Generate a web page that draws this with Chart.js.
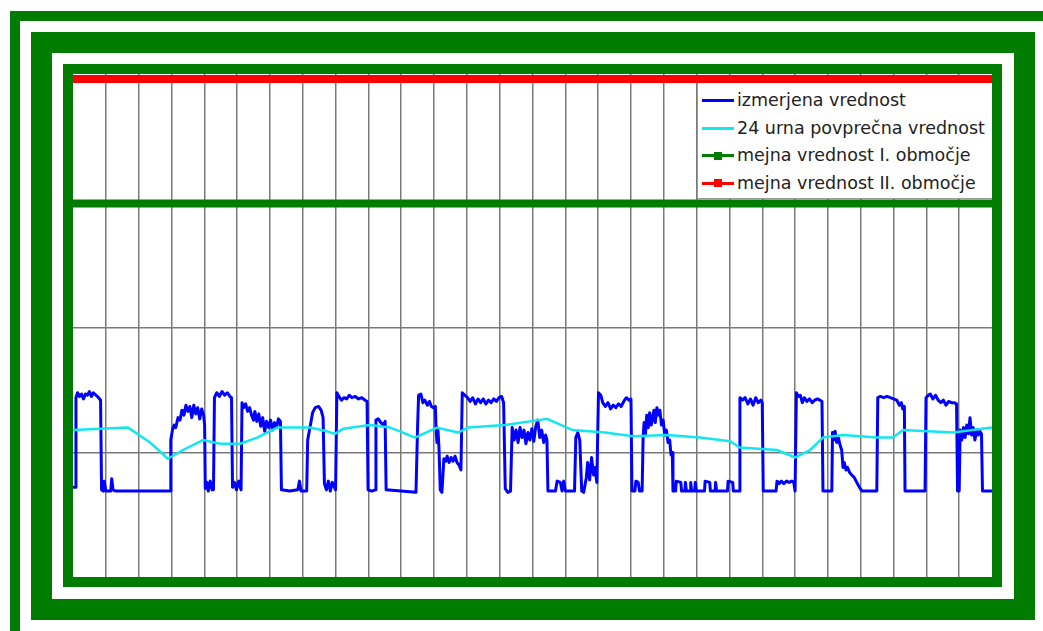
<!DOCTYPE html>
<html>
<head>
<meta charset="utf-8">
<script src="https://cdn.jsdelivr.net/npm/chart.js@4.4.0/dist/chart.umd.min.js"></script>
<style>
    html, body { margin: 0; padding: 0; background: #fff; width: 1043px; height: 631px; overflow: hidden; }
    .frame { position: absolute; box-sizing: border-box; border: solid #007d00; }
    #outer { left: 10px; top: 11px; width: 1100px; height: 700px; border-width: 10px 0 0 10px; }
    #middle { left: 31px; top: 32px; width: 1004px; height: 588px; border-width: 21px; }
    #inner { left: 63px; top: 64px; width: 939px; height: 523px; border-width: 10px; }
    #plot { position: absolute; left: 73px; top: 74px; width: 919px; height: 503px; }
    #legend {
        position: absolute; left: 697px; top: 83px; width: 295px; height: 116px;
        box-sizing: border-box; background: #fff;
        border-left: 1px solid #999; border-bottom: 1px solid #999;
        padding-top: 4px;
        font-family: "DejaVu Sans", sans-serif; font-size: 17.5px; color: #222;
    }
    .item { position: relative; height: 27.5px; line-height: 27.5px; padding-left: 39px; white-space: nowrap; }
    .swatch { position: absolute; left: 4px; top: 12px; width: 32px; height: 3px; }
    .marker { position: absolute; left: 16px; top: 9.5px; width: 8px; height: 8px; }
</style>
</head>
<body>
<div class="frame" id="outer"></div>
<div class="frame" id="middle"></div>
<div class="frame" id="inner"></div>
<div id="plot"><canvas id="chart"></canvas></div>
<div id="legend"></div>

<script>
// x = days (one grid column per day), y = measured level (grid step 1)
const measuredDays = [
    0.00, 0.07, 0.09, 0.14, 0.20, 0.26, 0.32, 0.38, 0.44, 0.50, 0.56, 0.62, 0.70, 0.78, 0.84, 0.87,
    0.92, 0.95, 1.00, 1.15, 1.18, 1.22, 1.30, 2.96,
    2.98, 3.03, 3.08, 3.13, 3.20, 3.26, 3.32, 3.38, 3.44, 3.50, 3.56, 3.62, 3.68, 3.74, 3.80, 3.86, 3.92, 3.98, 4.01, 4.03,
    4.08, 4.12, 4.18, 4.24, 4.28, 4.31, 4.38, 4.46, 4.54, 4.62, 4.70, 4.78, 4.83, 4.86,
    4.92, 4.98, 5.05, 5.12, 5.15, 5.20, 5.26, 5.32, 5.38, 5.44, 5.50, 5.54, 5.60, 5.66, 5.72, 5.78, 5.84, 5.90, 5.96, 6.02, 6.08, 6.14, 6.20, 6.26, 6.32, 6.35,
    6.60, 6.85, 6.90, 6.95, 7.12, 7.15, 7.22, 7.30, 7.38, 7.48, 7.56, 7.62, 7.66,
    7.72, 7.78, 7.84, 7.90, 8.00, 8.04, 8.10, 8.18, 8.26, 8.34, 8.42, 8.50, 8.60, 8.70, 8.80, 8.90, 8.96, 8.99,
    9.10, 9.21, 9.23, 9.30, 9.38, 9.46, 9.51, 9.54,
    10.45, 10.50, 10.53, 10.60, 10.66, 10.72, 10.80, 10.86, 10.92, 10.98, 11.04,
    11.06, 11.09, 11.12, 11.15, 11.19, 11.24,
    11.30, 11.36, 11.40, 11.46, 11.52, 11.58, 11.64, 11.70, 11.76, 11.82,
    11.86, 11.94, 12.02, 12.10, 12.18, 12.26, 12.34, 12.42, 12.50, 12.58, 12.66, 12.74, 12.82, 12.90, 12.98, 13.06, 13.12,
    13.17, 13.25, 13.33,
    13.38, 13.44, 13.50, 13.56, 13.62, 13.68, 13.74, 13.80, 13.86, 13.92, 13.98, 14.04, 14.10, 14.16, 14.22, 14.28, 14.34, 14.40, 14.44,
    14.47, 14.70, 14.75, 14.85, 14.90, 14.95, 15.00, 15.28,
    15.32, 15.38, 15.44, 15.50, 15.56,
    15.64, 15.68, 15.74, 15.80, 15.86, 15.90, 15.96,
    16.01, 16.08, 16.14, 16.22, 16.30, 16.38, 16.46, 16.54, 16.62, 16.70, 16.78, 16.86, 16.94, 17.00,
    17.03, 17.12, 17.15, 17.22, 17.26, 17.34,
    17.37, 17.40, 17.44, 17.48, 17.53, 17.57, 17.62, 17.66, 17.70, 17.74, 17.79, 17.84, 17.88, 17.93, 17.98, 18.03, 18.08, 18.13, 18.18, 18.22, 18.26, 18.28,
    18.36, 18.38, 18.52, 18.54, 18.64, 18.66, 18.69, 18.80, 18.82, 18.85, 18.94, 18.96, 18.99,
    19.24, 19.26, 19.40, 19.42, 19.56, 19.58, 19.61, 19.94, 19.96, 20.10, 20.12, 20.30,
    20.32, 20.40, 20.48, 20.56, 20.64, 20.72, 20.80, 20.88, 20.96, 21.00, 21.03,
    21.42, 21.45, 21.52, 21.58, 21.66, 21.74, 21.82, 21.90, 21.96, 22.00,
    22.04, 22.10, 22.16, 22.22, 22.28, 22.36, 22.44, 22.52, 22.60, 22.68, 22.76, 22.82, 22.85, 23.12,
    23.14, 23.18, 23.22, 23.27, 23.32, 23.37, 23.42, 23.46, 23.50, 23.55, 23.60, 23.66, 23.72, 23.80, 23.88, 23.96, 24.04, 24.49,
    24.52, 24.60, 24.70, 24.80, 24.90, 25.00, 25.10, 25.18, 25.24, 25.28, 25.33, 25.35, 25.96,
    25.99, 26.06, 26.12, 26.20, 26.28, 26.36, 26.44, 26.52, 26.60, 26.68, 26.76, 26.84, 26.92, 26.95, 27.00,
    27.03, 27.08, 27.13, 27.18, 27.23, 27.28, 27.33, 27.38, 27.43, 27.48, 27.53, 27.58, 27.63, 27.68, 27.71, 28.00
];
const measuredValues = [
    0.72, 0.72, 1.44, 1.48, 1.45, 1.47, 1.43, 1.47, 1.46, 1.49, 1.45, 1.48, 1.46, 1.44, 1.42, 0.70,
    0.69, 0.77, 0.69, 0.69, 0.79, 0.70, 0.69, 0.69,
    1.10, 1.18, 1.22, 1.20, 1.28, 1.26, 1.34, 1.30, 1.38, 1.33, 1.37, 1.28, 1.38, 1.31, 1.36, 1.27, 1.35, 1.30, 1.22, 0.71,
    0.76, 0.69, 0.77, 0.70, 0.70, 1.44, 1.48, 1.45, 1.49, 1.46, 1.48, 1.45, 1.44, 0.72,
    0.76, 0.70, 0.77, 0.70, 1.40, 1.36, 1.39, 1.33, 1.36, 1.30, 1.26, 1.33, 1.25, 1.31, 1.21, 1.28, 1.17, 1.25, 1.20, 1.26, 1.18, 1.24, 1.20, 1.27, 1.25, 0.70,
    0.69, 0.70, 0.77, 0.69, 0.69, 1.10, 1.20, 1.32, 1.36, 1.37, 1.34, 1.28, 0.75,
    0.70, 0.77, 0.69, 0.76, 0.70, 1.48, 1.45, 1.42, 1.44, 1.43, 1.46, 1.44, 1.45, 1.43, 1.44, 1.42, 1.41, 0.70,
    0.69, 0.70, 1.26, 1.27, 1.24, 1.22, 1.25, 0.70,
    0.68, 1.22, 1.46, 1.47, 1.40, 1.42, 1.38, 1.41, 1.37, 1.36, 1.37,
    1.20, 1.08, 1.18, 1.04, 0.70, 0.68,
    0.95, 0.93, 0.97, 0.92, 0.96, 0.93, 0.97, 0.92, 0.90, 0.86,
    1.48, 1.46, 1.44, 1.41, 1.44, 1.39, 1.43, 1.40, 1.43, 1.39, 1.42, 1.40, 1.43, 1.41, 1.44, 1.45, 1.40,
    0.71, 0.68, 0.69,
    1.20, 1.10, 1.18, 1.08, 1.20, 1.12, 1.18, 1.07, 1.16, 1.10, 1.19, 1.09, 1.21, 1.26, 1.12, 1.18, 1.08, 1.14, 1.10,
    0.69, 0.69, 0.77, 0.76, 0.69, 0.77, 0.69, 0.69,
    1.12, 1.16, 1.10, 0.69, 0.68,
    0.80, 0.92, 0.78, 0.96, 0.82, 0.88, 0.76,
    1.48, 1.46, 1.40, 1.37, 1.40, 1.35, 1.38, 1.36, 1.39, 1.37, 1.41, 1.44, 1.42, 1.43,
    0.69, 0.69, 0.77, 0.76, 0.69, 0.69,
    1.12, 1.24, 1.14, 1.30, 1.20, 1.32, 1.22, 1.28, 1.34, 1.24, 1.36, 1.30, 1.34, 1.22, 1.26, 1.14, 1.18, 1.08, 1.10, 0.98, 1.00, 0.69,
    0.69, 0.77, 0.76, 0.69, 0.69, 0.76, 0.69, 0.69, 0.76, 0.69, 0.69, 0.76, 0.69,
    0.69, 0.77, 0.76, 0.69, 0.69, 0.76, 0.69, 0.69, 0.77, 0.76, 0.69, 0.69,
    1.44, 1.42, 1.44, 1.39, 1.43, 1.38, 1.44, 1.40, 1.42, 1.40, 0.69,
    0.69, 0.77, 0.75, 0.77, 0.75, 0.77, 0.76, 0.77, 0.76, 0.69,
    1.48, 1.45, 1.46, 1.40, 1.44, 1.41, 1.43, 1.40, 1.42, 1.43, 1.42, 1.41, 0.69, 0.69,
    1.16, 1.10, 1.17, 1.08, 1.12, 1.06, 1.02, 0.88, 0.92, 0.86, 0.88, 0.84, 0.82, 0.80, 0.76, 0.72, 0.69, 0.69,
    1.44, 1.45, 1.44, 1.45, 1.44, 1.43, 1.42, 1.38, 1.40, 1.35, 1.37, 0.69, 0.69,
    1.44, 1.46, 1.47, 1.43, 1.46, 1.42, 1.40, 1.42, 1.38, 1.41, 1.40, 1.40, 1.39, 0.69, 0.69,
    1.18, 1.10, 1.20, 1.12, 1.22, 1.15, 1.28, 1.14, 1.20, 1.10, 1.18, 1.14, 1.17, 1.15, 0.69, 0.69
];

const avgDays = [0, 1.68, 2.35, 2.89, 3.35, 3.96, 4.48, 5.09, 5.61, 6.22, 7.22, 7.74, 7.98, 8.23, 9.05, 9.66, 9.96, 10.42, 11.09, 11.73,
    12.04, 13.16, 14.44, 15.23, 16.21, 17.06, 18.10, 19.10, 20.02, 20.32, 21.45, 22.00, 22.46, 22.85, 23.46, 24.50, 24.98, 25.29, 26.81, 28.00];
const avgValues = [1.18, 1.20, 1.08, 0.95, 1.02, 1.10, 1.07, 1.07, 1.12, 1.20, 1.20, 1.17, 1.15, 1.19, 1.22, 1.20, 1.17, 1.12, 1.20, 1.16,
    1.20, 1.22, 1.27, 1.18, 1.16, 1.13, 1.14, 1.12, 1.09, 1.04, 1.02, 0.96, 1.02, 1.12, 1.14, 1.12, 1.12, 1.18, 1.16, 1.20];

const limitDays = [0, 28];
const limit1Values = [3, 3];
const limit2Values = [4, 4];

const dayGrid = [1, 2, 3, 4, 5, 6, 7, 8, 9, 10, 11, 12, 13, 14, 15, 16, 17, 18, 19, 20, 21, 22, 23, 24, 25, 26, 27];
const levelGrid = [1, 2];

const legendItems = [
    { text: 'izmerjena vrednost', color: '#0000ff', marker: false },
    { text: '24 urna povprečna vrednost', color: '#14e6f0', marker: false },
    { text: 'mejna vrednost I. območje', color: '#007d00', marker: true },
    { text: 'mejna vrednost II. območje', color: '#ff0000', marker: true }
];

function toPoints(xs, ys) {
    return xs.map((x, i) => ({ x: x, y: ys[i] }));
}

function buildLegend() {
    const box = document.getElementById('legend');
    box.innerHTML = legendItems.map(item => `
        <div class="item">
            <span class="swatch" style="background:${item.color}"></span>
            ${item.marker ? `<span class="marker" style="background:${item.color}"></span>` : ''}
            ${item.text}
        </div>`).join('');
}

document.addEventListener('DOMContentLoaded', () => {
    buildLegend();

    const gridStyle = { color: '#7a7a7a', lineWidth: 1.5, drawTicks: false };

    new Chart(document.getElementById('chart'), {
        type: 'line',
        data: {
            datasets: [
                { label: legendItems[0].text, data: toPoints(measuredDays, measuredValues), borderColor: '#0000ff', borderWidth: 3, order: 1 },
                { label: legendItems[1].text, data: toPoints(avgDays, avgValues), borderColor: '#14e6f0', borderWidth: 2.5, order: 0 },
                { label: legendItems[2].text, data: toPoints(limitDays, limit1Values), borderColor: '#007d00', borderWidth: 8, order: 2 },
                { label: legendItems[3].text, data: toPoints(limitDays, limit2Values), borderColor: '#ff0000', borderWidth: 8, order: 2 }
            ]
        },
        options: {
            responsive: true,
            maintainAspectRatio: false,
            animation: false,
            layout: { padding: 0 },
            elements: {
                point: { radius: 0, hoverRadius: 0 },
                line: { tension: 0, fill: false, borderJoinStyle: 'round' }
            },
            plugins: { legend: { display: false }, tooltip: { enabled: false } },
            scales: {
                x: {
                    type: 'linear', min: 0, max: 28,
                    afterBuildTicks: scale => { scale.ticks = dayGrid.map(v => ({ value: v })); },
                    ticks: { display: false },
                    grid: gridStyle,
                    border: { display: false }
                },
                y: {
                    type: 'linear', min: 0, max: 4.04,
                    afterBuildTicks: scale => { scale.ticks = levelGrid.map(v => ({ value: v })); },
                    ticks: { display: false },
                    grid: gridStyle,
                    border: { display: false }
                }
            }
        }
    });
});
</script>
</body>
</html>
